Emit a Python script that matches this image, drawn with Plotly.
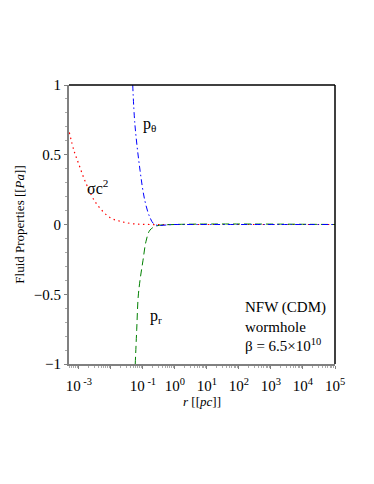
import plotly.graph_objects as go

# --- data ---
r_sigma = [5.0e-4, 7.0e-4, 1.0e-3, 1.7e-3, 3.5e-3, 9.3e-3, 0.019, 0.05, 0.17, 1, 1e5]
sigma_c2 = [0.66, 0.53, 0.43, 0.29, 0.15, 0.05, 0.024, 0.005, 0, 0, 0]

r_theta = [0.048, 0.056, 0.081, 0.115, 0.166, 0.234, 1, 1e5]
p_theta = [1.0, 0.72, 0.39, 0.17, 0.05, 0.0, 0, 0]

r_radial = [0.0575, 0.064, 0.071, 0.081, 0.100, 0.125, 0.166, 0.27, 1, 1e5]
p_radial = [-1.0, -0.75, -0.52, -0.40, -0.26, -0.12, -0.04, -0.01, 0, 0]

x_tickvals = [1e-3, 1e-2, 1e-1, 1, 10, 100, 1e3, 1e4, 1e5]
x_ticktext = ["10<sup> -3</sup>", "", "10<sup> -1</sup>", "10<sup>0</sup>", "10<sup>1</sup>",
              "10<sup>2</sup>", "10<sup>3</sup>", "10<sup>4</sup>", "10<sup>5</sup>"]
y_tickvals = [-1, -0.5, 0, 0.5, 1]
y_ticktext = ["\u22121", "\u22120.5", "0", "0.5", "1"]

serif = "Liberation Serif, Times New Roman, serif"

fig = go.Figure()
fig.add_trace(go.Scatter(x=r_sigma, y=sigma_c2, mode="lines", line_shape="spline",
                         line=dict(color="#ff0000", dash="1.5px,3.5px", width=1.2)))
fig.add_trace(go.Scatter(x=r_radial, y=p_radial, mode="lines", line_shape="spline",
                         line=dict(color="#008000", dash="7px,4px", width=1)))
fig.add_trace(go.Scatter(x=r_theta, y=p_theta, mode="lines", line_shape="spline",
                         line=dict(color="#0000ff", dash="6px,3px,1.5px,3px", width=1)))

# curve labels
fig.add_annotation(x=-0.78, y=0.72, text="p<sub>θ</sub>", showarrow=False,
                   font=dict(size=16, family=serif, color="black"))
fig.add_annotation(x=-2.43, y=0.27, text="σc<sup>2</sup>", showarrow=False,
                   font=dict(size=16, family=serif, color="black"))
fig.add_annotation(x=-0.6, y=-0.66, text="p<sub>r</sub>", showarrow=False,
                   font=dict(size=16, family=serif, color="black"))
fig.add_annotation(x=1, y=0.03, xref="paper", yref="paper", xanchor="right", yanchor="bottom",
                   xshift=-7, align="left", showarrow=False,
                   text="NFW (CDM)<br>wormhole<br>β = 6.5×10<sup>10</sup>",
                   font=dict(size=15, family=serif, color="black"))

# black frame on top and right, gray axes on left and bottom
fig.add_shape(type="line", xref="paper", yref="paper", x0=0, x1=1, y0=1, y1=1,
              line=dict(color="black", width=1.5))
fig.add_shape(type="line", xref="paper", yref="paper", x0=1, x1=1, y0=0, y1=1,
              line=dict(color="black", width=1.5))

fig.update_layout(
    width=374, height=484,
    margin=dict(l=61, r=47, t=77, b=128),
    paper_bgcolor="white", plot_bgcolor="white",
    showlegend=False,
    font=dict(family=serif, size=15, color="black"),
    xaxis=dict(type="log", range=[-3.31, 5], tickvals=x_tickvals, ticktext=x_ticktext,
               showgrid=False, zeroline=False, showline=True, linecolor="#808080", linewidth=2,
               ticks="outside", ticklen=3, tickcolor="#808080", ticklabelstandoff=4,
               minor=dict(ticks="outside", ticklen=2, tickcolor="#aaa", dtick="D1"),
               title=dict(text="<i>r</i> [[<i>pc</i>]]", font=dict(size=13), standoff=4)),
    yaxis=dict(range=[-1, 1], tickvals=y_tickvals, ticktext=y_ticktext,
               showgrid=False, zeroline=False, showline=True, linecolor="#808080", linewidth=2,
               ticks="outside", ticklen=3, tickcolor="#808080",
               minor=dict(ticks="outside", ticklen=2, tickcolor="#aaa", dtick=0.1),
               title=dict(text="Fluid Properties [[<i>Pa</i>]]", font=dict(size=13), standoff=6)),
)

fig.write_html("out.html")
